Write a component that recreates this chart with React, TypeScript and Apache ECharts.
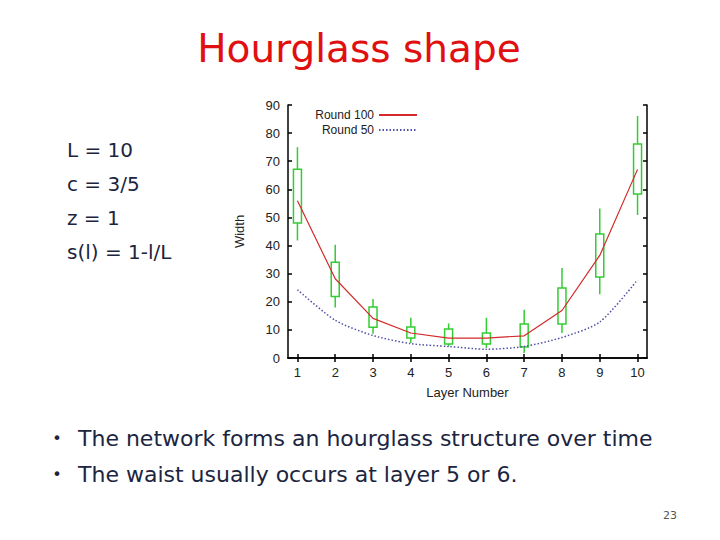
import React, { useEffect, useRef } from "react";
import * as echarts from "echarts";

const layers = [1, 2, 3, 4, 5, 6, 7, 8, 9, 10];
const whiskerLow = [41.8, 18, 8.6, 5.3, 4.1, 3.6, 1.8, 8.9, 22.7, 50.9];
const boxLow = [48, 21.9, 10.9, 7.1, 5, 5, 3.9, 12.1, 28.8, 58.3];
const boxHigh = [67.1, 34.1, 18.1, 11, 10.3, 8.9, 12.1, 24.9, 44.1, 76.1];
const whiskerHigh = [75, 40.3, 21, 14.3, 12.3, 14.3, 17.2, 32, 53.2, 86.1];
const round100 = [55.9, 28.2, 14.1, 8.9, 7.1, 7.1, 7.9, 16.9, 36.5, 67.1];
const round50 = [24.3, 13.4, 8, 5.1, 4.1, 3.1, 4.1, 7.3, 12.8, 27.8];

const leftLines = ["L = 10", "c = 3/5", "z = 1", "s(l) = 1-l/L"];
const bullets = [
  "The network forms an hourglass structure over time",
  "The waist usually occurs at layer 5 or 6.",
];

const GREEN = "#33cc33";
const TEXT = "#1c2540";

export default function App() {
  const ref = useRef<HTMLDivElement>(null);
  useEffect(() => {
    if (!ref.current) return;
    const chart = echarts.init(ref.current, null, { renderer: "svg" });
    const boxData = layers.map((x, i) => [x, whiskerLow[i], boxLow[i], boxHigh[i], whiskerHigh[i]]);
    const axisFont = { fontFamily: "Liberation Sans", fontSize: 13, color: "#222" };
    const xCommon = {
      type: "value" as const,
      min: 0.75,
      max: 10.25,
      splitLine: { show: false },
      axisLine: { show: true, lineStyle: { color: "#000", width: 1.5 } },
      axisTick: { show: true, inside: true, length: 4, customValues: layers, lineStyle: { color: "#000", width: 1.5 } },
    };
    const yCommon = {
      type: "value" as const,
      min: 0,
      max: 90,
      interval: 10,
      splitLine: { show: false },
      axisLine: { show: true, lineStyle: { color: "#000", width: 1.5 } },
      axisTick: { show: true, inside: true, length: 4, lineStyle: { color: "#000", width: 1.5 } },
    };
    const graphics: any[] = [
      {
        type: "text",
        x: 359,
        y: 48,
        style: {
          text: "Hourglass shape",
          fill: "#e01010",
          font: "39px 'DejaVu Sans'",
          align: "center",
          verticalAlign: "middle",
        },
      },
      ...leftLines.map((t, i) => ({
        type: "text",
        x: 67,
        y: 150 + i * 34,
        style: { text: t, fill: TEXT, font: "20px 'DejaVu Sans'", verticalAlign: "middle" },
      })),
      ...bullets.flatMap((t, i) => [
        {
          type: "text",
          x: 57,
          y: 438 + i * 36,
          style: { text: "•", fill: TEXT, font: "16px 'DejaVu Sans'", align: "center", verticalAlign: "middle" },
        },
        {
          type: "text",
          x: 78,
          y: 438 + i * 36,
          style: { text: t, fill: TEXT, font: "22px 'DejaVu Sans'", verticalAlign: "middle" },
        },
      ]),
      {
        type: "text",
        x: 670,
        y: 515,
        style: { text: "23", fill: "#555", font: "11px 'DejaVu Sans'", align: "center", verticalAlign: "middle" },
      },
    ];
    chart.setOption({
      animation: false,
      backgroundColor: "#fff",
      grid: { left: 288, top: 105, width: 359, height: 253, containLabel: false },
      legend: {
        orient: "vertical",
        align: "right",
        right: 302,
        top: 109,
        padding: 0,
        itemWidth: 38,
        itemHeight: 12,
        itemGap: 3,
        itemStyle: { opacity: 0 },
        textStyle: { fontFamily: "Liberation Sans", fontSize: 12, lineHeight: 12, color: "#222" },
        data: ["Round 100", "Round 50"],
      },
      xAxis: [
        {
          ...xCommon,
          position: "bottom",
          name: "Layer Number",
          nameLocation: "middle",
          nameGap: 28,
          nameTextStyle: { ...axisFont, verticalAlign: "top" },
          axisLabel: { ...axisFont, margin: 8, customValues: layers },
        },
        { ...xCommon, position: "top", axisLabel: { show: false } },
      ],
      yAxis: [
        {
          ...yCommon,
          position: "left",
          name: "Width",
          nameLocation: "middle",
          nameGap: 42,
          nameRotate: 90,
          nameTextStyle: axisFont,
          axisLabel: { ...axisFont, margin: 8 },
        },
        { ...yCommon, position: "right", axisLabel: { show: false } },
      ],
      series: [
        {
          type: "custom",
          name: "boxes",
          xAxisIndex: 0,
          yAxisIndex: 0,
          encode: { x: 0, y: [1, 2, 3, 4] },
          data: boxData,
          renderItem: (params: any, api: any) => {
            const x = api.value(0);
            const pWL = api.coord([x, api.value(1)]);
            const pBL = api.coord([x, api.value(2)]);
            const pBH = api.coord([x, api.value(3)]);
            const pWH = api.coord([x, api.value(4)]);
            const w = 8;
            const st = { stroke: GREEN, lineWidth: 1.5, fill: "none" };
            return {
              type: "group",
              children: [
                { type: "line", shape: { x1: pWL[0], y1: pWL[1], x2: pBL[0], y2: pBL[1] }, style: st },
                { type: "line", shape: { x1: pBH[0], y1: pBH[1], x2: pWH[0], y2: pWH[1] }, style: st },
                {
                  type: "rect",
                  shape: { x: pBH[0] - w / 2, y: pBH[1], width: w, height: pBL[1] - pBH[1] },
                  style: st,
                },
              ],
            };
          },
        },
        {
          type: "line",
          name: "Round 100",
          data: layers.map((x, i) => [x, round100[i]]),
          symbol: "none",
          itemStyle: { color: "#d42a2a" },
          lineStyle: { color: "#d42a2a", width: 1.2 },
        },
        {
          type: "line",
          name: "Round 50",
          data: layers.map((x, i) => [x, round50[i]]),
          symbol: "none",
          smooth: 0.25,
          itemStyle: { color: "#5050a8" },
          lineStyle: { color: "#5050a8", width: 1.5, type: [1.5, 2] },
        },
      ],
      graphic: graphics,
    });
    return () => chart.dispose();
  }, []);
  return (
    <div
      ref={ref}
      style={{ position: "fixed", left: 0, top: 0, width: 720, height: 540, background: "#fff" }}
    />
  );
}
